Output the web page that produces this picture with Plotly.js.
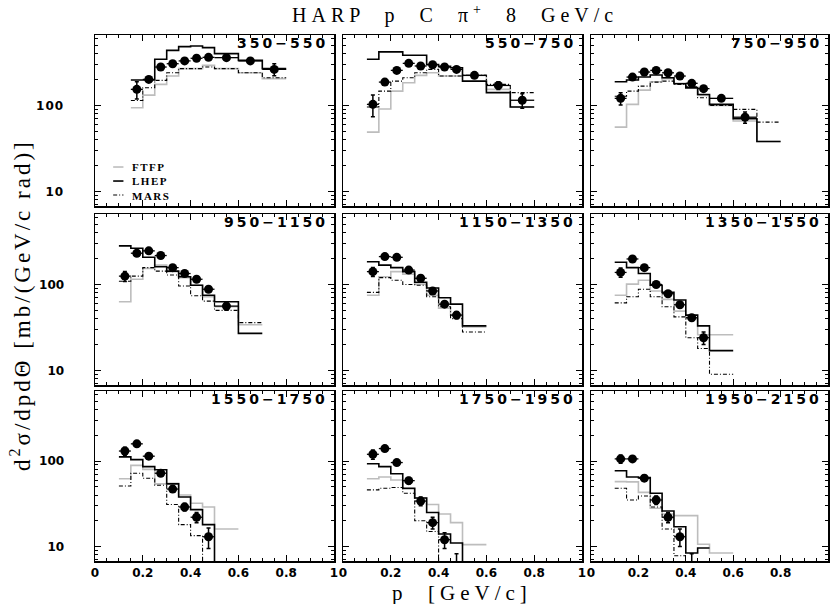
<!DOCTYPE html>
<html><head><meta charset="utf-8">
<script src="https://cdn.plot.ly/plotly-3.0.1.min.js"></script>
<style>
body{margin:0;background:#fff;}
#chart{width:830px;height:604px;}
.annotation-text{letter-spacing:3px;}
text.annotation-text[data-unformatted^="HARP"]{letter-spacing:5px;}
text.annotation-text[data-unformatted^="d<sup>"]{letter-spacing:3px;}
text.annotation-text[data-unformatted^="p "]{letter-spacing:5px;}
text.annotation-text[data-unformatted^="FTFP"]{letter-spacing:1.5px;}
.xtick text,.ytick text{letter-spacing:1px;}
</style>
</head><body><div id="chart"></div>
<script>
// momentum bin edges and centres (GeV/c)
const pEdges   = [0.1,0.15,0.2,0.25,0.3,0.35,0.4,0.45,0.5,0.6,0.7,0.8];
const pCenters = [0.125,0.175,0.225,0.275,0.325,0.375,0.425,0.475,0.55,0.65,0.75];
const pHalf    = [0.025,0.025,0.025,0.025,0.025,0.025,0.025,0.025,0.05,0.05,0.05];

const angleLabels = ["350\u2212550","550\u2212750","750\u2212950","950\u22121150","1150\u22121350","1350\u22121550","1550\u22121750","1750\u22121950","1950\u22122150"];
const modelNames = ["FTFP","LHEP","MARS"];

// HARP data (mb/(GeV/c rad)) per angular bin
const harp350  = [null,154,201,280,306,330,354,363,360,330,263];
const err350   = [null,35,12,15,14,14,14,14,14,15,42];
const harp550  = [103,187,256,309,288,298,280,263,224,171,115];
const err550   = [29,13,14,15,14,14,14,13,12,18,22];
const harp750  = [121,214,245,256,240,220,181,157,121,73,null];
const err750   = [20,10,10,10,10,10,9,9,8,11,null];
const harp950  = [125,231,246,217,157,134,115,88,56,null,null];
const err950   = [17,10,10,10,8,7,6,5,6,null,null];
const harp1150 = [141,211,207,147,118,84,59,44,null,null,null];
const err1150  = [17,9,9,7,6,5,4,4,null,null,null];
const harp1350 = [138,198,157,100,78,58,41,24,null,null,null];
const err1350  = [17,9,8,6,5,4,3,4,null,null,null];
const harp1550 = [131,159,114,72,47,29,22,13,null,null,null];
const err1550  = [14,8,7,5,4,3,3,3.5,null,null,null];
const harp1750 = [120,140,96,59,34,19,12,6,null,null,null];
const err1750  = [15,8,6,5,4,3,2.5,2.2,null,null,null];
const harp1950 = [106,106,63,35,22,13,6,null,null,null,null];
const err1950  = [12,6,5,4,3,3,2.2,null,null,null,null];

// model predictions per bin
const ftfp350  = [null,94,132,176,220,268,268,293,268,240,205];
const lhep350  = [null,198,198,345,438,484,493,471,401,335,268];
const mars350  = [null,114,161,196,240,268,268,280,268,240,210];
const ftfp550  = [49,91,147,184,224,240,220,220,224,154,96];
const lhep550  = [345,420,420,384,384,300,285,275,192,141,96];
const mars550  = [96,147,192,210,240,263,220,220,224,176,141];
const ftfp750  = [56,103,151,189,205,181,165,131,100,66,38];
const lhep750  = [189,198,214,226,210,179,160,134,103,70,38];
const mars750  = [128,147,168,187,192,176,165,123,100,90,64];
const ftfp950  = [63,115,154,168,141,120,98,72,55,34,null];
const lhep950  = [281,264,207,161,143,123,98,75,63,27,null];
const mars950  = [109,125,157,143,129,96,74,64,50,36,null];
const ftfp1150 = [75,123,141,132,101,75,53,44,32,null,null];
const lhep1150 = [184,168,157,141,106,91,70,59,33,null,null];
const mars1150 = [81,120,112,100,98,72,55,40,28,null,null];
const ftfp1350 = [75,101,112,84,67,49,40,26,26,null,null];
const lhep1350 = [181,157,134,98,81,66,44,33,17,null,null];
const mars1350 = [61,72,88,72,55,42,24,18,9,null,null];
const ftfp1550 = [62,89,80,54,55,40,32,29,16,null,null];
const lhep1550 = [112,104,86,79,54,38,27,18,3,null,null];
const mars1550 = [51,72,63,52,31,18,13.4,3,null,null,null];
const ftfp1750 = [62,65,60,47,37,31,24,19,10.5,null,null];
const lhep1750 = [93,86,71,48,37,25,14,11,3,null,null];
const mars1750 = [46,48,49,42,20,15,4,null,null,null,null];
const ftfp1950 = [57.5,57,43,28,24,23,23,10.6,8.4,null,null];
const lhep1950 = [77,65,64,42,26,17,8.4,9.6,null,null,null];
const mars1950 = [48,35,39,29,16,7.8,null,null,null,null,null];

const dataSets = [harp350,harp550,harp750,harp950,harp1150,harp1350,harp1550,harp1750,harp1950];
const errSets  = [err350,err550,err750,err950,err1150,err1350,err1550,err1750,err1950];
const ftfpSets = [ftfp350,ftfp550,ftfp750,ftfp950,ftfp1150,ftfp1350,ftfp1550,ftfp1750,ftfp1950];
const lhepSets = [lhep350,lhep550,lhep750,lhep950,lhep1150,lhep1350,lhep1550,lhep1750,lhep1950];
const marsSets = [mars350,mars550,mars750,mars950,mars1150,mars1350,mars1550,mars1750,mars1950];

const W = 830, H = 604;
const colPx = [[95,334],[343,582],[591,828]];
const rowPx = [[35,206],[214,385],[391,561]];

const styles = {
  FTFP: {color:'#bdbdbd', width:1.6},
  LHEP: {color:'#000000', width:1.6},
  MARS: {color:'#000000', width:1.1, dash:'4px,2px,1px,2px'}
};

function stepTrace(vals, k, name){
  const xs=[], ys=[]; let last=-1;
  for(let i=0;i<vals.length;i++){ if(vals[i]==null) continue; xs.push(pEdges[i]); ys.push(vals[i]); last=i; }
  xs.push(pEdges[last+1]); ys.push(vals[last]);
  return {type:'scatter', mode:'lines', x:xs, y:ys, name:name, showlegend:false,
    line:Object.assign({shape:'hv'}, styles[name]), xaxis:'x'+(k?k+1:''), yaxis:'y'+(k?k+1:''), hoverinfo:'skip'};
}

const traces = [];
const layout = {
  width:W, height:H, margin:{l:0,r:0,t:0,b:0}, paper_bgcolor:'#fff', plot_bgcolor:'#fff',
  showlegend:false, annotations:[], shapes:[], font:{family:'DejaVu Sans', color:'#000'}
};

for(let k=0;k<9;k++){
  const r = Math.floor(k/3), c = k%3;
  const sx = k?String(k+1):'';
  modelNames.forEach((nm,j)=>{
    const set = [ftfpSets,lhepSets,marsSets][j][k];
    traces.push(stepTrace(set, k, nm));
  });
  const xs=[],ys=[],ey=[],ex=[];
  dataSets[k].forEach((v,i)=>{ if(v==null) return; xs.push(pCenters[i]); ys.push(v); ey.push(errSets[k][i]); ex.push(pHalf[i]); });
  traces.push({type:'scatter', mode:'markers', x:xs, y:ys, showlegend:false, name:'HARP',
    marker:{color:'#000', size:9},
    error_y:{type:'data', array:ey, color:'#000', thickness:1.5, width:2},
    error_x:{type:'data', array:ex, color:'#000', thickness:1.3, width:0},
    xaxis:'x'+sx, yaxis:'y'+sx});
  layout['xaxis'+sx] = {
    domain:[colPx[c][0]/W, colPx[c][1]/W], anchor:'y'+sx, range:[0,1], tick0:0, dtick:0.2,
    ticks:'inside', ticklen:6, tickwidth:1, tickcolor:'#000',
    minor:{dtick:0.05, ticks:'inside', ticklen:3, tickwidth:1, tickcolor:'#000'},
    showline:true, linecolor:'#000', linewidth:1.5, mirror:'ticks', showgrid:false, zeroline:false,
    showticklabels:r===2, ticklabelstandoff:0,
    tickfont:{family:'DejaVu Sans', size:12, weight:'bold', color:'#000'}
  };
  layout['yaxis'+sx] = {
    domain:[1-rowPx[r][1]/H, 1-rowPx[r][0]/H], anchor:'x'+sx, type:'log', range:[0.83,2.82], dtick:1,
    ticks:'inside', ticklen:6, tickwidth:1, tickcolor:'#000',
    minor:{dtick:'D1', ticks:'inside', ticklen:3, tickwidth:1, tickcolor:'#000'},
    showline:true, linecolor:'#000', linewidth:1.5, mirror:'ticks', showgrid:false, zeroline:false,
    showticklabels:c===0, ticklabelstandoff:27,
    tickfont:{family:'DejaVu Sans', size:12, weight:'bold', color:'#000'}
  };
  layout.annotations.push({xref:'x'+sx+' domain', yref:'y'+sx+' domain', x:0.985, y:0.955,
    xanchor:'right', yanchor:'middle', showarrow:false, text:angleLabels[k],
    font:{family:'DejaVu Sans', size:14, weight:'bold', color:'#000'}});
}

// legend drawn in the first panel: one three-line label plus short line samples
const legY = [0.228, 0.146, 0.064];
modelNames.forEach((nm,j)=>{
  layout.shapes.push({type:'line', xref:'x domain', yref:'y domain', x0:0.076, x1:0.119, y0:legY[j], y1:legY[j],
    line:Object.assign({}, styles[nm])});
});
layout.annotations.push({xref:'x domain', yref:'y domain', x:0.145, y:legY[1], xanchor:'left', yanchor:'middle',
  align:'left', showarrow:false, text:modelNames.join('<br>'),
  font:{family:'Liberation Serif', size:11, weight:'bold', color:'#000'}});

layout.annotations.push({xref:'paper', yref:'paper', x:455/W, y:1-14/H, xanchor:'center', yanchor:'middle',
  showarrow:false, text:'HARP  p  C  \u03c0<sup>+</sup>  8  GeV/c',
  font:{family:'Liberation Serif', size:20, color:'#000'}});
layout.annotations.push({xref:'paper', yref:'paper', x:20/W, y:1-305/H, xanchor:'center', yanchor:'middle',
  showarrow:false, textangle:-90, text:'d<sup>2</sup>\u03c3/dpd\u0398 [mb/(GeV/c rad)]',
  font:{family:'Liberation Serif', size:23, color:'#000'}});
layout.annotations.push({xref:'paper', yref:'paper', x:462/W, y:0, xanchor:'center', yanchor:'bottom', yshift:-3,
  showarrow:false, text:'p  [GeV/c]',
  font:{family:'Liberation Serif', size:21, color:'#000'}});

Plotly.newPlot('chart', traces, layout, {staticPlot:true});
</script>
</body></html>
